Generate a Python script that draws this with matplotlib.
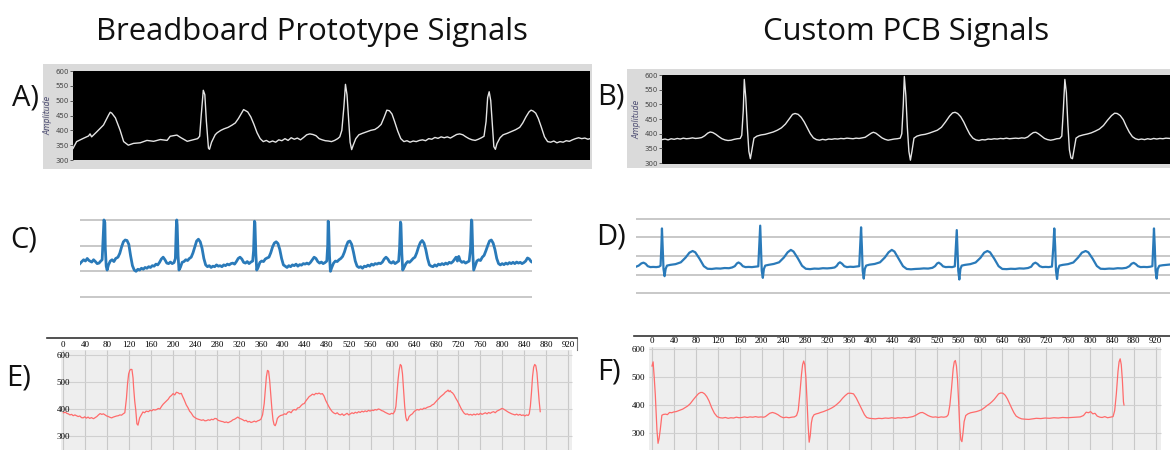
import matplotlib
matplotlib.use("Agg")
import matplotlib.pyplot as plt
from matplotlib.patches import Rectangle

W, H = 1170, 450

# ---- A) breadboard, LabVIEW style (x: 0..1000 screen units, y: amplitude)
a_pts = [(0, 339), (7, 362), (20, 373), (30, 381), (33, 388), (36, 378), (46, 395), (59, 418),
         (69, 452), (72, 461), (75, 458), (82, 442), (91, 401), (98, 362), (107, 350), (117, 356),
         (130, 358), (143, 366), (156, 363), (169, 369), (182, 366), (188, 380), (201, 384),
         (208, 376), (221, 363), (234, 369), (241, 372), (245, 380), (248, 450), (252, 535),
         (255, 520), (258, 430), (262, 340), (264, 336), (268, 360), (275, 385), (279, 392),
         (286, 400), (292, 405), (300, 410), (308, 418), (314, 425), (320, 440), (326, 458),
         (330, 470), (334, 466), (338, 462), (344, 445), (350, 420), (356, 392), (362, 372),
         (368, 362), (374, 366), (380, 360), (386, 364), (392, 360), (398, 368), (404, 365),
         (410, 372), (416, 366), (422, 375), (428, 370), (434, 374), (440, 368), (446, 376),
         (452, 385), (458, 388), (464, 386), (470, 382), (476, 372), (482, 368), (488, 365),
         (494, 364), (500, 362), (506, 366), (512, 372), (516, 378), (520, 400), (524, 480),
         (527, 555), (530, 520), (533, 440), (536, 360), (539, 335), (542, 350), (547, 372),
         (553, 385), (560, 390), (568, 395), (576, 400), (584, 403), (590, 410), (596, 420),
         (602, 445), (607, 468), (612, 466), (617, 455), (622, 430), (628, 398), (634, 372),
         (640, 362), (646, 365), (652, 360), (658, 364), (664, 362), (670, 366), (676, 368),
         (682, 365), (688, 372), (694, 370), (700, 376), (706, 373), (712, 378), (718, 375),
         (724, 378), (730, 374), (736, 380), (742, 386), (748, 388), (754, 385), (760, 378),
         (766, 372), (772, 368), (778, 366), (784, 370), (790, 375), (795, 380), (799, 430),
         (802, 510), (805, 530), (808, 500), (811, 420), (814, 345), (817, 336), (820, 355),
         (826, 375), (832, 385), (840, 390), (848, 396), (856, 402), (864, 410), (870, 425),
         (876, 445), (882, 462), (886, 468), (890, 465), (895, 458), (900, 440), (906, 410),
         (912, 378), (918, 362), (924, 360), (930, 364), (936, 358), (942, 362), (948, 360),
         (954, 365), (960, 363), (966, 368), (972, 372), (978, 375), (984, 372), (990, 374),
         (996, 370), (1000, 372)]

# ---- B) custom PCB, LabVIEW style
b_pts = [(0, 380), (6, 382), (12, 379), (18, 383), (24, 381), (30, 384), (36, 382), (42, 385),
         (48, 383), (54, 384), (60, 386), (66, 384), (72, 385), (78, 387), (84, 393), (90, 402),
         (95, 406), (100, 404), (106, 398), (112, 390), (118, 383), (124, 379), (130, 377),
         (136, 378), (142, 381), (148, 383), (154, 384), (157, 395), (160, 480), (162, 585),
         (165, 520), (168, 420), (171, 340), (174, 315), (177, 345), (181, 385), (187, 392),
         (195, 396), (203, 398), (211, 402), (219, 406), (227, 412), (235, 420), (243, 433),
         (251, 452), (257, 466), (262, 469), (268, 466), (274, 456), (280, 440), (286, 420),
         (292, 400), (298, 386), (304, 380), (310, 378), (316, 381), (322, 379), (328, 382),
         (334, 381), (340, 383), (346, 382), (352, 384), (358, 383), (364, 385), (370, 384),
         (376, 383), (382, 385), (388, 384), (394, 386), (400, 388), (406, 395), (412, 402),
         (416, 405), (421, 402), (427, 394), (433, 386), (439, 381), (445, 378), (451, 380),
         (457, 382), (463, 383), (469, 385), (472, 400), (475, 500), (477, 595), (480, 530),
         (483, 420), (486, 340), (489, 310), (492, 340), (496, 385), (502, 392), (510, 396),
         (518, 398), (526, 402), (534, 407), (542, 412), (550, 422), (558, 440), (566, 460),
         (572, 471), (577, 473), (582, 469), (588, 458), (594, 440), (600, 418), (606, 398),
         (612, 385), (618, 379), (624, 377), (630, 380), (636, 379), (642, 382), (648, 381),
         (654, 383), (660, 382), (666, 384), (672, 383), (678, 385), (684, 383), (690, 384),
         (696, 385), (702, 384), (708, 386), (714, 385), (720, 389), (726, 398), (731, 404),
         (736, 405), (741, 400), (747, 392), (753, 384), (759, 380), (765, 378), (771, 380),
         (777, 383), (783, 384), (787, 392), (790, 480), (793, 585), (796, 540), (799, 430),
         (802, 345), (805, 318), (808, 315), (811, 345), (815, 385), (821, 392), (829, 396),
         (837, 399), (845, 403), (853, 409), (861, 416), (869, 428), (877, 446), (885, 462),
         (891, 470), (896, 469), (902, 462), (908, 448), (914, 425), (920, 405), (926, 390),
         (932, 383), (938, 380), (944, 382), (950, 380), (956, 383), (962, 381), (968, 384),
         (974, 382), (980, 384), (986, 383), (992, 385), (1000, 384)]

# ---- C) breadboard, spreadsheet chart (y in grid-line units, 0..3)
c_pts = [(0, 1.30), (4, 1.38), (8, 1.45), (12, 1.40), (16, 1.50), (20, 1.42), (26, 1.36), (30, 1.45),
         (34, 1.38), (38, 1.30), (42, 1.32), (46, 1.40), (49, 1.45), (51, 2.2), (53, 3.0), (55, 2.9),
         (56, 1.9), (58, 1.2), (60, 1.05), (63, 1.25), (67, 1.40), (71, 1.45), (75, 1.38), (79, 1.50),
         (84, 1.55), (88, 1.70), (92, 1.95), (96, 2.15), (100, 2.22), (104, 2.20), (108, 2.05),
         (112, 1.60), (116, 1.22), (120, 1.05), (124, 1.00), (128, 1.08), (132, 1.05), (136, 1.12),
         (140, 1.08), (144, 1.15), (148, 1.12), (152, 1.18), (156, 1.15), (160, 1.22), (164, 1.20),
         (168, 1.28), (172, 1.25), (176, 1.35), (180, 1.48), (184, 1.55), (188, 1.45), (192, 1.32),
         (196, 1.30), (200, 1.36), (204, 1.30), (208, 1.34), (211, 1.50), (213, 2.7), (214, 3.0),
         (215, 2.8), (217, 1.6), (219, 1.05), (222, 1.15), (226, 1.35), (230, 1.38), (234, 1.45),
         (238, 1.42), (242, 1.50), (246, 1.55), (250, 1.72), (254, 1.95), (258, 2.18), (262, 2.25),
         (266, 2.15), (270, 1.90), (274, 1.50), (278, 1.25), (282, 1.18), (286, 1.22), (290, 1.15),
         (294, 1.20), (298, 1.18), (302, 1.25), (306, 1.20), (310, 1.22), (314, 1.18), (318, 1.25),
         (322, 1.22), (326, 1.28), (330, 1.25), (334, 1.30), (338, 1.32), (342, 1.28), (346, 1.38),
         (350, 1.50), (354, 1.55), (358, 1.48), (362, 1.35), (366, 1.32), (370, 1.38), (374, 1.30),
         (378, 1.36), (382, 1.40), (384, 1.8), (386, 2.95), (387, 2.9), (389, 1.7), (391, 1.05),
         (394, 1.15), (398, 1.35), (402, 1.40), (406, 1.38), (410, 1.48), (414, 1.52), (418, 1.55),
         (422, 1.72), (426, 1.95), (430, 2.10), (434, 2.15), (438, 2.08), (442, 1.85), (446, 1.50),
         (450, 1.25), (454, 1.20), (458, 1.15), (462, 1.22), (466, 1.18), (470, 1.25), (474, 1.22),
         (478, 1.28), (482, 1.20), (486, 1.26), (490, 1.24), (494, 1.30), (498, 1.28), (502, 1.32),
         (506, 1.28), (510, 1.35), (514, 1.45), (518, 1.55), (522, 1.50), (526, 1.38), (530, 1.32),
         (534, 1.36), (538, 1.30), (542, 1.34), (546, 1.40), (548, 2.0), (549, 2.95), (550, 2.85),
         (552, 1.6), (554, 1.00), (557, 1.15), (561, 1.32), (565, 1.40), (569, 1.38), (573, 1.45),
         (577, 1.50), (581, 1.58), (585, 1.75), (589, 1.98), (593, 2.15), (597, 2.18), (601, 2.05),
         (605, 1.75), (609, 1.40), (613, 1.20), (617, 1.15), (621, 1.18), (625, 1.12), (629, 1.20),
         (633, 1.18), (637, 1.24), (641, 1.20), (645, 1.28), (649, 1.24), (653, 1.30), (657, 1.28),
         (661, 1.32), (665, 1.30), (669, 1.36), (673, 1.48), (677, 1.55), (681, 1.48), (685, 1.36),
         (689, 1.32), (693, 1.38), (697, 1.30), (701, 1.35), (705, 1.40), (707, 1.9), (709, 2.92),
         (710, 2.85), (712, 1.7), (714, 1.05), (717, 1.15), (721, 1.30), (725, 1.38), (729, 1.35),
         (733, 1.42), (737, 1.50), (741, 1.55), (745, 1.72), (749, 1.95), (753, 2.12), (757, 2.20),
         (761, 2.10), (765, 1.85), (769, 1.50), (773, 1.25), (777, 1.20), (781, 1.18), (785, 1.25),
         (789, 1.20), (793, 1.28), (797, 1.25), (801, 1.30), (805, 1.26), (809, 1.32), (813, 1.28),
         (817, 1.35), (821, 1.32), (825, 1.38), (829, 1.48), (832, 1.55), (835, 1.40), (838, 1.58),
         (841, 1.42), (845, 1.35), (849, 1.38), (853, 1.32), (857, 1.36), (861, 1.40), (864, 1.9),
         (866, 3.0), (867, 2.95), (869, 1.7), (871, 1.05), (874, 1.20), (878, 1.40), (882, 1.45),
         (886, 1.42), (890, 1.55), (894, 1.62), (898, 1.80), (902, 2.00), (906, 2.18), (910, 2.22),
         (914, 2.10), (918, 1.85), (922, 1.50), (926, 1.30), (930, 1.25), (934, 1.30), (938, 1.26),
         (942, 1.32), (946, 1.28), (950, 1.34), (954, 1.30), (958, 1.35), (962, 1.30), (966, 1.36),
         (970, 1.32), (974, 1.35), (978, 1.30), (982, 1.34), (986, 1.40), (990, 1.52), (994, 1.48),
         (998, 1.38), (1000, 1.36)]

# ---- D) custom PCB, spreadsheet chart (y in grid-line units, 0..4)
d_pts = [(0, 1.42), (5, 1.48), (10, 1.60), (14, 1.64), (18, 1.58), (22, 1.45), (27, 1.40), (32, 1.41),
         (38, 1.40), (43, 1.42), (46, 1.48), (47.5, 2.5), (48.6, 3.49), (50, 2.5), (51.5, 1.3),
         (53.5, 0.91), (55.5, 1.3), (58, 1.48), (64, 1.52), (74, 1.56), (84, 1.66), (93, 1.92),
         (100, 2.18), (106, 2.27), (111, 2.20), (119, 1.85), (127, 1.45), (134, 1.31), (142, 1.30),
         (150, 1.33), (158, 1.32), (166, 1.35), (174, 1.34), (180, 1.38), (185, 1.45), (189, 1.60),
         (192, 1.65), (196, 1.58), (200, 1.45), (205, 1.40), (211, 1.41), (217, 1.40), (223, 1.42),
         (229, 1.44), (231, 2.6), (232.6, 3.64), (234, 2.5), (235.5, 1.2), (237.5, 0.82), (239.5, 1.3),
         (242, 1.48), (248, 1.52), (258, 1.57), (268, 1.66), (277, 1.92), (284, 2.2), (290, 2.33),
         (295, 2.24), (303, 1.88), (311, 1.47), (318, 1.31), (326, 1.29), (334, 1.32), (342, 1.31),
         (350, 1.34), (358, 1.33), (366, 1.35), (372, 1.38), (376, 1.47), (379, 1.60), (382, 1.66),
         (386, 1.58), (390, 1.45), (395, 1.40), (401, 1.42), (407, 1.41), (413, 1.43), (418, 1.45),
         (420, 2.6), (421.5, 3.55), (423, 2.5), (424.5, 1.2), (426.5, 0.78), (428.5, 1.3), (431, 1.48),
         (437, 1.53), (447, 1.57), (457, 1.66), (466, 1.92), (473, 2.2), (479, 2.33), (484, 2.24),
         (492, 1.85), (500, 1.45), (507, 1.30), (515, 1.28), (523, 1.30), (531, 1.31), (539, 1.33),
         (547, 1.32), (555, 1.36), (560, 1.45), (564, 1.60), (567, 1.64), (571, 1.56), (575, 1.44),
         (580, 1.40), (586, 1.41), (592, 1.40), (597, 1.44), (599, 2.5), (600.7, 3.40), (602, 2.4),
         (603.5, 1.2), (605.5, 0.73), (607.5, 1.3), (610, 1.48), (616, 1.52), (626, 1.56), (636, 1.65),
         (645, 1.90), (652, 2.18), (658, 2.27), (663, 2.20), (671, 1.85), (679, 1.45), (686, 1.30),
         (694, 1.29), (702, 1.31), (710, 1.30), (718, 1.33), (726, 1.32), (734, 1.35), (740, 1.42),
         (744, 1.58), (748, 1.64), (752, 1.57), (756, 1.45), (761, 1.40), (767, 1.41), (773, 1.40),
         (779, 1.43), (781.5, 2.5), (783.3, 3.49), (785, 2.5), (786.5, 1.2), (788.5, 0.76), (790.5, 1.3),
         (793, 1.48), (799, 1.52), (809, 1.56), (819, 1.65), (828, 1.92), (835, 2.18), (842, 2.27),
         (847, 2.20), (855, 1.86), (863, 1.46), (870, 1.31), (878, 1.30), (886, 1.32), (894, 1.31),
         (902, 1.34), (910, 1.33), (918, 1.36), (924, 1.45), (928, 1.58), (932, 1.63), (936, 1.56),
         (940, 1.45), (945, 1.40), (951, 1.41), (957, 1.40), (963, 1.42), (967, 1.45), (968.5, 2.5),
         (970, 3.49), (971.5, 2.5), (973, 1.2), (975, 0.78), (977, 1.3), (980, 1.47), (986, 1.50),
         (993, 1.52), (1000, 1.54)]

# ---- E) breadboard, serial plotter (x: samples, y: ADC value)
e_pts = [(0, 386), (4, 388), (6, 384), (9, 382), (12, 378), (15, 380), (18, 375), (21, 378), (24, 375),
         (27, 372), (30, 374), (33, 368), (36, 367), (39, 371), (42, 366), (45, 370), (48, 365),
         (51, 368), (55, 364), (58, 368), (61, 372), (64, 378), (67, 383), (70, 380), (73, 382),
         (76, 378), (79, 374), (82, 372), (85, 369), (88, 367), (91, 370), (94, 372), (97, 374),
         (100, 375), (103, 378), (106, 377), (109, 382), (112, 386), (115, 440), (117, 494),
         (119, 530), (121, 543), (123, 547), (125, 546), (127, 515), (128, 481), (130, 430),
         (132, 395), (134, 345), (136, 340), (139, 367), (142, 378), (145, 389), (148, 386),
         (151, 392), (155, 390), (158, 395), (161, 393), (164, 398), (167, 396), (170, 398),
         (173, 402), (176, 400), (179, 410), (182, 418), (185, 424), (188, 430), (191, 436),
         (194, 445), (197, 450), (200, 457), (203, 452), (206, 462), (209, 460), (212, 456),
         (215, 458), (217, 448), (220, 435), (222, 425), (224, 415), (227, 405), (230, 392),
         (233, 385), (237, 372), (240, 368), (243, 364), (246, 362), (249, 360), (252, 358),
         (255, 360), (258, 356), (261, 357), (264, 360), (267, 358), (270, 362), (273, 360),
         (276, 365), (279, 364), (282, 358), (285, 356), (288, 354), (291, 353), (294, 350),
         (297, 352), (300, 349), (303, 352), (306, 355), (309, 360), (312, 362), (315, 366),
         (318, 370), (321, 365), (324, 363), (327, 360), (330, 356), (333, 358), (336, 352),
         (339, 354), (342, 350), (345, 352), (348, 355), (351, 352), (354, 356), (357, 358),
         (360, 362), (363, 378), (366, 420), (368, 470), (370, 520), (372, 543), (374, 540),
         (376, 505), (378, 450), (380, 400), (382, 360), (384, 342), (386, 338), (388, 348),
         (390, 365), (393, 372), (396, 376), (400, 378), (403, 382), (406, 380), (409, 388),
         (412, 390), (415, 386), (418, 395), (421, 398), (424, 396), (427, 404), (430, 405),
         (433, 412), (436, 418), (439, 420), (442, 430), (445, 438), (448, 446), (451, 450),
         (454, 455), (457, 452), (460, 458), (463, 456), (466, 459), (469, 455), (472, 457),
         (475, 448), (478, 432), (481, 420), (484, 408), (487, 398), (490, 390), (493, 385),
         (496, 382), (499, 386), (502, 380), (505, 378), (508, 382), (511, 376), (514, 380),
         (517, 384), (520, 378), (523, 382), (526, 386), (529, 383), (532, 388), (535, 385),
         (538, 390), (541, 387), (544, 392), (547, 389), (550, 393), (553, 390), (556, 395),
         (559, 392), (562, 396), (565, 394), (568, 398), (571, 396), (574, 400), (577, 398),
         (580, 394), (583, 392), (586, 388), (589, 385), (592, 382), (595, 380), (598, 384),
         (601, 382), (604, 392), (606, 410), (608, 460), (610, 510), (612, 545), (614, 565),
         (616, 560), (618, 530), (620, 470), (622, 410), (624, 370), (626, 356), (628, 360),
         (630, 372), (633, 378), (636, 382), (639, 390), (642, 395), (645, 398), (648, 396),
         (651, 400), (654, 398), (657, 403), (660, 402), (663, 406), (666, 408), (669, 410),
         (672, 415), (675, 418), (678, 425), (681, 432), (684, 438), (687, 445), (690, 450),
         (693, 455), (696, 462), (699, 466), (701, 470), (703, 464), (705, 468), (707, 462),
         (709, 460), (712, 452), (715, 440), (718, 430), (721, 418), (724, 405), (727, 394),
         (730, 385), (733, 380), (736, 382), (739, 378), (742, 380), (745, 377), (748, 381),
         (751, 378), (754, 382), (757, 379), (760, 384), (763, 380), (766, 383), (769, 386),
         (772, 382), (775, 387), (778, 384), (781, 388), (784, 390), (787, 386), (790, 392),
         (793, 395), (796, 398), (799, 402), (802, 400), (805, 396), (808, 392), (811, 388),
         (814, 385), (817, 382), (820, 380), (823, 378), (826, 381), (829, 377), (832, 380),
         (835, 376), (838, 378), (841, 374), (844, 378), (847, 376), (849, 382), (851, 410),
         (853, 460), (855, 520), (857, 555), (859, 565), (861, 560), (863, 535), (865, 480),
         (867, 430), (869, 390)]

# ---- F) custom PCB, serial plotter
f_pts = [(0, 540), (2, 555), (4, 500), (6, 437), (8, 350), (9, 310), (11, 262), (13, 280), (15, 310),
         (17, 345), (18, 363), (21, 366), (25, 367), (28, 365), (32, 373), (36, 372), (40, 375),
         (44, 376), (48, 379), (52, 382), (56, 385), (60, 390), (65, 396), (70, 405), (75, 418),
         (80, 430), (85, 441), (89, 445), (92, 445), (96, 440), (100, 430), (104, 415), (109, 390),
         (114, 370), (119, 358), (124, 354), (129, 353), (134, 355), (139, 352), (144, 354),
         (149, 353), (154, 356), (159, 354), (164, 355), (169, 357), (174, 355), (179, 357),
         (184, 356), (189, 358), (194, 356), (199, 357), (204, 356), (207, 358), (211, 364),
         (215, 370), (220, 373), (225, 370), (230, 365), (235, 358), (240, 354), (245, 356),
         (250, 354), (255, 356), (260, 357), (264, 362), (267, 380), (270, 440), (273, 510),
         (275, 545), (277, 558), (279, 545), (281, 500), (283, 420), (285, 330), (287, 266),
         (289, 290), (291, 335), (293, 355), (296, 365), (300, 368), (304, 370), (308, 373),
         (313, 376), (318, 380), (323, 384), (328, 389), (333, 395), (338, 403), (343, 412),
         (348, 424), (353, 434), (358, 442), (363, 442), (368, 440), (373, 425), (378, 405),
         (383, 385), (388, 365), (392, 355), (397, 352), (402, 351), (408, 350), (414, 352),
         (420, 351), (426, 353), (432, 352), (438, 354), (444, 352), (449, 354), (455, 353),
         (460, 355), (466, 354), (471, 356), (476, 358), (481, 362), (486, 368), (490, 372),
         (494, 373), (499, 368), (504, 362), (509, 358), (513, 356), (518, 357), (523, 355),
         (528, 357), (533, 356), (538, 358), (541, 365), (544, 400), (547, 460), (550, 530),
         (552, 555), (554, 560), (556, 540), (558, 490), (560, 410), (562, 320), (564, 275),
         (566, 268), (568, 300), (570, 340), (573, 362), (577, 368), (582, 372), (587, 374),
         (592, 376), (597, 379), (602, 383), (607, 390), (612, 398), (617, 405), (621, 412),
         (625, 420), (629, 430), (633, 440), (637, 443), (641, 442), (645, 435), (649, 422),
         (653, 405), (657, 388), (661, 372), (665, 360), (670, 354), (675, 350), (680, 349),
         (688, 348), (695, 350), (702, 352), (710, 351), (718, 353), (726, 352), (734, 354),
         (742, 353), (750, 355), (758, 354), (766, 355), (774, 356), (782, 357), (788, 362),
         (793, 374), (797, 372), (801, 376), (805, 368), (809, 370), (813, 360), (818, 356),
         (822, 355), (827, 358), (832, 354), (837, 356), (842, 358), (845, 380), (848, 440),
         (851, 520), (853, 555), (855, 566), (857, 545), (859, 490), (861, 411), (862, 400)]

lv_yticks = [300, 350, 400, 450, 500, 550, 600]
sp_xticks = list(range(0, 921, 40))
sp_yticks = [300, 400, 500, 600]


def box(x0, y0, x1, y1):
    # pixel box (top-left origin) -> figure fraction
    return [x0 / W, 1 - y1 / H, (x1 - x0) / W, (y1 - y0) / H]


def frame(fig, x0, y0, x1, y1, color):
    fig.patches.append(Rectangle((x0 / W, 1 - y1 / H), (x1 - x0) / W, (y1 - y0) / H,
                                 transform=fig.transFigure, facecolor=color,
                                 edgecolor="none", zorder=-5))


def labview(fig, rect, pts, ylo):
    ax = fig.add_axes(rect)
    ax.set_zorder(2)
    ax.set_facecolor("black")
    xs, ys = zip(*pts)
    ax.plot(xs, ys, color="#e4e4e4", lw=1.0)
    ax.set_xlim(0, 1000)
    ax.set_ylim(ylo, 600)
    ax.set_yticks(lv_yticks)
    ax.set_xticks([])
    ax.tick_params(axis="y", labelsize=5, colors="#444444", length=2, width=0.6, pad=1)
    ax.set_ylabel("Amplitude", fontsize=5.5, style="italic", color="#4a4a70", labelpad=2)
    for s in ax.spines.values():
        s.set_visible(False)
    return ax


def sheet(fig, rect, pts, nlines, ylim, lw):
    ax = fig.add_axes(rect)
    xs, ys = zip(*pts)
    ax.plot(xs, ys, color="#2a7ab9", lw=lw, zorder=3)
    ax.set_xlim(0, 1000)
    ax.set_ylim(*ylim)
    ax.set_yticks(range(nlines))
    ax.set_xticks([])
    ax.yaxis.grid(True, color="#c8c8c8", lw=1.4)
    ax.tick_params(axis="y", length=0, labelleft=False)
    for s in ax.spines.values():
        s.set_visible(False)
    return ax


def plotter(fig, rect, pts, xlim, ylim, gray, lab_pad, ylab_pad, right_edge):
    ax = fig.add_axes(rect)
    ax.set_facecolor("white")
    ax.add_patch(Rectangle((gray[0], ylim[0]), gray[1] - gray[0], gray[2] - ylim[0],
                           facecolor="#eeeeee", edgecolor="none", zorder=0))
    ax.vlines(sp_xticks, ylim[0], gray[2], color="#c9c9c9", lw=0.8, zorder=1)
    ax.hlines(sp_yticks, gray[0], gray[1], color="#d0d0d0", lw=0.8, zorder=1)
    xs, ys = zip(*pts)
    ax.plot(xs, ys, color="#ff6b6b", lw=0.9, zorder=3)
    ax.set_xlim(*xlim)
    ax.set_ylim(*ylim)
    ax.xaxis.tick_top()
    ax.set_xticks(sp_xticks)
    ax.set_yticks(sp_yticks)
    ax.tick_params(axis="x", length=0, pad=lab_pad, labelsize=6.5)
    ax.tick_params(axis="y", length=0, pad=ylab_pad, labelsize=6.5)
    for lab in ax.get_xticklabels() + ax.get_yticklabels():
        lab.set_family("Liberation Serif")
    for k in ("left", "bottom"):
        ax.spines[k].set_visible(False)
    ax.spines["top"].set_color("#333333")
    ax.spines["top"].set_linewidth(1.2)
    if right_edge:
        ax.spines["right"].set_color("#777777")
        ax.spines["right"].set_bounds(gray[2], ylim[1])
    else:
        ax.spines["right"].set_visible(False)
    return ax


fig = plt.figure(figsize=(W / 100, H / 100), dpi=100)

title_kw = dict(fontsize=22.3, family="Open Sans", ha="center", va="center", color="#111111")
fig.text(312 / W, 1 - 32 / H, "Breadboard Prototype Signals", **title_kw)
fig.text(906 / W, 1 - 32 / H, "Custom PCB Signals", **title_kw)

lab_kw = dict(fontsize=21, family="Open Sans", ha="center", va="center", color="#111111")
for name, x, y in [("A)", 26, 98), ("B)", 611, 97), ("C)", 24, 240),
                   ("D)", 611, 237), ("E)", 19, 378), ("F)", 609, 372)]:
    fig.text(x / W, 1 - y / H, name, **lab_kw)

# LabVIEW frames
frame(fig, 43, 64, 592, 169, "#dadada")
frame(fig, 627, 69, 1170, 168, "#dadada")
labview(fig, box(73, 71, 590, 160), a_pts, 300)
labview(fig, box(662, 75, 1170, 164), b_pts, 297)

sheet(fig, box(80, 212, 532, 300), c_pts, 4, (-0.117, 3.31), 2.0)
sheet(fig, box(636, 212, 1170, 300), d_pts, 5, (-0.378, 4.378), 1.6)

plotter(fig, box(47, 338, 577, 450), e_pts, (-29.8, 936), (248, 663),
        (-4.2, 927, 618), -7.9, -16.5, True)
plotter(fig, box(634, 336, 1170, 450), f_pts, (-32.9, 946), (238, 648),
        (-5.5, 929, 609), -6.5, -8, False)

fig.savefig("out.png", dpi=100)
